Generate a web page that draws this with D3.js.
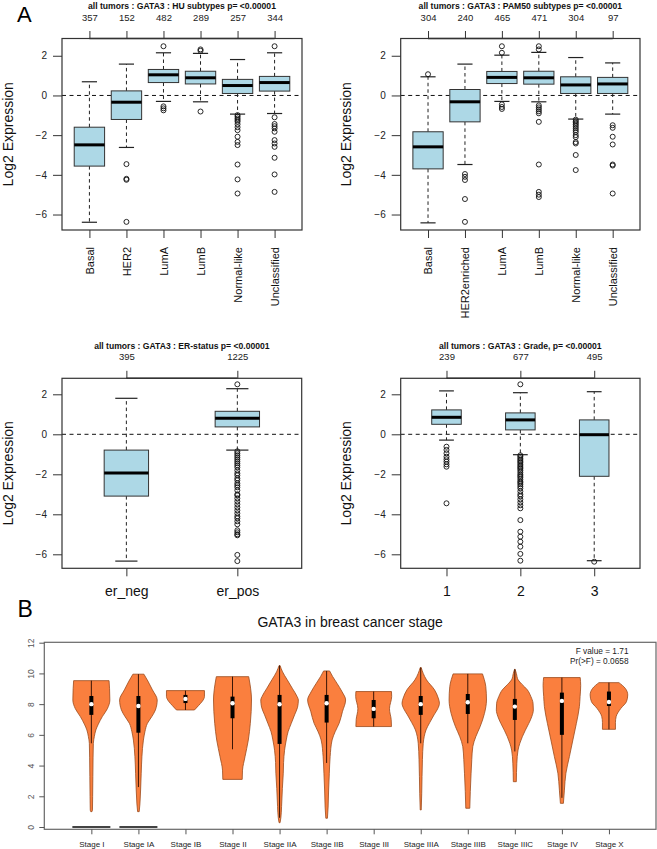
<!DOCTYPE html>
<html><head><meta charset="utf-8">
<script src="https://cdn.jsdelivr.net/npm/d3@7"></script>
<style>body{margin:0;background:#fff} svg{display:block;font-family:"Liberation Sans",Arial,sans-serif}</style>
</head><body><svg id="c" width="657" height="849"></svg>
<script>
// ---------- DATA: panel A ----------
const yTicksA = [-6, -4, -2, 0, 2];

const huTitle = "all tumors : GATA3 : HU subtypes p= <0.00001";
const huCategories = ["Basal", "HER2", "LumA", "LumB", "Normal-like", "Unclassified"];
const huCounts = [357, 152, 482, 289, 257, 344];
// [lower whisker, Q1, median, Q3, upper whisker]
const huStats = [
  [-6.39, -3.56, -2.49, -1.60, 0.69],
  [-2.62, -1.21, -0.34, 0.23, 1.58],
  [-0.30, 0.65, 1.04, 1.31, 2.15],
  [-0.32, 0.58, 0.89, 1.22, 2.12],
  [-0.94, 0.10, 0.50, 0.81, 1.81],
  [-0.91, 0.22, 0.65, 0.96, 2.15]
];
const huOutliers = [
  [],
  [-3.46, -4.20, -4.25, -6.37],
  [2.48, -0.55, -0.65, -0.75],
  [2.25, 2.32, -0.81],
  [-0.99, -1.07, -1.16, -1.24, -1.32, -1.45, -1.6, -1.75, -2.08, -2.34, -2.5, -3.48, -4.23, -4.94],
  [2.48, -1.1, -1.44, -1.55, -1.66, -1.83, -2.25, -2.42, -2.59, -3.14, -3.98, -4.86]
];

const pamTitle = "all tumors : GATA3 : PAM50 subtypes p= <0.00001";
const pamCategories = ["Basal", "HER2enriched", "LumA", "LumB", "Normal-like", "Unclassified"];
const pamCounts = [304, 240, 465, 471, 304, 97];
const pamStats = [
  [-6.42, -3.70, -2.59, -1.83, 0.94],
  [-3.48, -1.33, -0.32, 0.30, 1.58],
  [-0.30, 0.60, 0.91, 1.21, 2.03],
  [-0.32, 0.57, 0.89, 1.22, 2.17],
  [-1.19, 0.10, 0.53, 0.94, 1.91],
  [-0.94, 0.10, 0.58, 0.91, 1.64]
];
const pamOutliers = [
  [1.07],
  [-3.96, -4.10, -4.26, -5.22, -6.37],
  [2.48, 2.15, -0.45, -0.58, -0.68],
  [2.48, 2.32, -0.5, -0.6, -0.7, -0.8, -0.9, -1.33, -3.48, -4.86, -5.0, -5.12],
  [-1.22, -1.3, -1.38, -1.46, -1.55, -1.65, -1.75, -1.85, -2.0, -2.1, -2.35, -2.42, -3.0, -3.76],
  [-1.5, -1.63, -2.08, -2.47, -3.48, -3.53, -4.94]
];

const erTitle = "all tumors : GATA3 : ER-status p= <0.00001";
const erCategories = ["er_neg", "er_pos"];
const erCounts = [395, 1225];
const erStats = [
  [-6.34, -3.09, -1.94, -0.79, 1.80],
  [-0.79, 0.37, 0.80, 1.15, 2.28]
];
const erOutliers = [
  [],
  [2.5, -0.85, -0.95, -1.05, -1.15, -1.25, -1.35, -1.45, -1.55, -1.65, -1.8, -1.95, -2.05, -2.2, -2.3,
   -2.45, -2.55, -2.65, -2.8, -3.0, -3.05, -3.2, -3.35, -3.5, -3.65, -3.8, -3.95, -4.1, -4.2, -4.35,
   -4.5, -4.8, -4.9, -5.0, -5.05, -6.03, -6.34]
];

const gradeTitle = "all tumors : GATA3 : Grade, p= <0.00001";
const gradeCategories = ["1", "2", "3"];
const gradeCounts = [239, 677, 495];
const gradeStats = [
  [-0.29, 0.50, 0.85, 1.22, 2.17],
  [-1.02, 0.22, 0.72, 1.07, 2.08],
  [-6.32, -2.10, -0.02, 0.72, 2.13]
];
const gradeOutliers = [
  [-0.62, -0.78, -0.95, -1.12, -1.25, -1.37, -1.5, -1.62, -3.45],
  [2.5, -1.05, -1.12, -1.2, -1.28, -1.35, -1.42, -1.5, -1.58, -1.65, -1.72, -1.8, -1.9, -2.0, -2.08,
   -2.15, -2.25, -2.35, -2.42, -2.5, -2.6, -2.7, -2.85, -3.0, -3.1, -3.25, -3.4, -3.55, -3.7,
   -4.29, -4.87, -5.12, -5.37, -5.62, -5.98, -6.32],
  [-6.37]
];

// ---------- DATA: panel B ----------
const violinTitle = "GATA3 in breast cancer stage";
const stageNames = ["Stage I", "Stage IA", "Stage IB", "Stage II", "Stage IIA", "Stage IIB",
  "Stage III", "Stage IIIA", "Stage IIIB", "Stage IIIC", "Stage IV", "Stage X"];
const violinYTicks = [0, 2, 4, 6, 8, 10, 12];
// [lower whisker, Q1, median, Q3, upper whisker]
const stageStats = [
  [5.45, 7.30, 8.00, 8.53, 9.53],
  [2.60, 6.14, 7.88, 8.53, 9.95],
  [7.62, 8.07, 8.34, 8.60, 8.88],
  [5.06, 7.08, 8.06, 8.49, 9.79],
  [0.60, 5.41, 7.99, 8.60, 10.51],
  [4.17, 6.80, 8.06, 8.60, 10.16],
  [6.54, 7.08, 7.69, 8.27, 8.82],
  [5.45, 7.30, 8.00, 8.53, 10.38],
  [5.45, 7.36, 8.12, 8.66, 9.97],
  [4.92, 6.97, 7.84, 8.34, 10.27],
  [1.90, 6.00, 8.21, 8.75, 9.73],
  [6.36, 7.88, 8.14, 8.82, 9.40]
];
// density profiles: [value, relative density]
const stageDensity = [
  [[9.53,17.7],[9.0,18.2],[8.27,18.5],[7.7,16],[7.19,11],[6.7,7],[6.32,4.5],[5.9,3],[5.45,2],[4.5,1.7],[3.28,1.5],[2.0,1.3],[1.11,1.1],[1.0,0.6]],
  [[9.95,5.5],[9.5,9.5],[8.93,14],[8.27,18.8],[7.62,17],[7.2,13.5],[6.75,9],[6.2,6.5],[5.66,5],[4.58,3.5],[3.5,2.8],[2.41,2.2],[1.5,1.5],[1.0,0.8]],
  [[8.88,19],[8.5,19],[8.2,17],[7.9,13],[7.62,9]],
  [[9.79,16.2],[9.3,17.5],[8.27,19],[6.75,17.8],[5.66,15.8],[4.58,12.5],[3.7,10],[3.1,9.7]],
  [[10.51,0.5],[10.1,3],[9.6,7.5],[9.0,13],[8.5,17.5],[8.27,18.8],[7.8,18],[7.3,15],[6.75,11.7],[6.2,8.5],[5.67,6.7],[5.0,5],[4.2,4],[3.5,3.7],[2.5,2.8],[1.33,2],[0.6,1.3],[0.28,0.5]],
  [[10.16,3],[9.8,6],[9.36,10.3],[8.8,15.5],[8.27,19],[7.51,15.8],[6.75,12.5],[6.2,8.5],[5.67,5.5],[4.58,3.5],[3.5,2.7],[2.41,2],[1.3,1.5],[0.57,0.8]],
  [[8.82,17.8],[8.5,18],[7.7,15.8],[7.0,17.5],[6.54,17.8]],
  [[10.38,0.5],[10.0,2.5],[9.58,5.8],[8.93,13.8],[8.4,17.5],[8.06,18.7],[7.7,17],[7.3,13.3],[6.8,9],[6.32,5.3],[5.9,3.5],[5.45,2.5],[4.4,1.7],[3.28,1.3],[2.2,1],[1.11,0.5]],
  [[9.97,14.7],[9.6,16.5],[9.15,18],[8.27,18.7],[7.4,16.7],[6.53,12.3],[5.88,8],[5.23,5],[4.4,4],[3.5,3.3],[2.3,2.5],[1.22,2]],
  [[10.27,0.3],[10.0,1.5],[9.58,3.3],[9.3,7],[8.93,12.5],[8.5,16],[8.06,18.2],[7.62,18.5],[7.2,17],[6.75,14],[6.3,10.5],[5.88,7.5],[5.45,5],[5.01,3.2],[4.15,2],[2.95,1.5]],
  [[9.73,18.3],[9.2,18.8],[8.5,18.2],[7.84,17.5],[6.75,14.5],[5.67,11],[4.58,7.5],[3.5,4],[2.4,2.5],[1.54,1.5]],
  [[9.4,10],[9.03,16.3],[8.6,18.8],[8.16,17.5],[7.73,12],[7.19,7.2],[6.8,6.5],[6.36,6.5]]
];
const zeroStages = ["Stage I", "Stage IA"];
const fValueText = "F value = 1.71";
const prText = "Pr(>F) = 0.0658";

// ---------- DRAWING ----------
const svg = d3.select("#c");

const panels = [
  {title: huTitle, cats: huCategories, counts: huCounts, stats: huStats, out: huOutliers,
   left: 62, right: 302, top: 38.5, bottom: 230, yDomain: [-6.78, 2.87], boxW: 0.82, rot: true},
  {title: pamTitle, cats: pamCategories, counts: pamCounts, stats: pamStats, out: pamOutliers,
   left: 400.7, right: 640, top: 38.5, bottom: 230, yDomain: [-6.78, 2.87], boxW: 0.82, rot: true},
  {title: erTitle, cats: erCategories, counts: erCounts, stats: erStats, out: erOutliers,
   left: 62, right: 301.7, top: 378.3, bottom: 568.3, yDomain: [-6.7, 2.8], boxW: 0.4, rot: false},
  {title: gradeTitle, cats: gradeCategories, counts: gradeCounts, stats: gradeStats, out: gradeOutliers,
   left: 400.7, right: 640, top: 378.3, bottom: 568.3, yDomain: [-6.7, 2.8], boxW: 0.4, rot: false}
];

function boxPanel(p) {
  const n = p.cats.length;
  const ext = 0.04 * n;
  const x = d3.scaleLinear().domain([0.5 - ext, n + 0.5 + ext]).range([p.left, p.right]);
  const y = d3.scaleLinear().domain(p.yDomain).range([p.bottom, p.top]);
  const idx = d3.range(1, n + 1);
  const g = svg.append("g");

  // reference line at 0
  g.append("line").attr("x1", p.left).attr("x2", p.right)
    .attr("y1", y(0)).attr("y2", y(0))
    .attr("stroke", "#111").attr("stroke-width", 1).attr("stroke-dasharray", "4,3.5");

  const hw = (x(p.boxW) - x(0)) / 2;
  p.stats.forEach((s, i) => {
    const cx = x(i + 1);
    const [lo, q1, med, q3, hi] = s;
    const bg = g.append("g");
    bg.append("line").attr("x1", cx).attr("x2", cx).attr("y1", y(q3)).attr("y2", y(hi))
      .attr("stroke", "#222").attr("stroke-dasharray", "3.5,3");
    bg.append("line").attr("x1", cx).attr("x2", cx).attr("y1", y(q1)).attr("y2", y(lo))
      .attr("stroke", "#222").attr("stroke-dasharray", "3.5,3");
    [lo, hi].forEach(v => bg.append("line").attr("x1", cx - hw / 2).attr("x2", cx + hw / 2)
      .attr("y1", y(v)).attr("y2", y(v)).attr("stroke", "#222").attr("stroke-width", 1.2));
    bg.append("rect").attr("x", cx - hw).attr("width", 2 * hw)
      .attr("y", y(q3)).attr("height", y(q1) - y(q3))
      .attr("fill", "#add8e6").attr("stroke", "#333").attr("stroke-width", 1);
    bg.append("line").attr("x1", cx - hw).attr("x2", cx + hw).attr("y1", y(med)).attr("y2", y(med))
      .attr("stroke", "#000").attr("stroke-width", 3);
    p.out[i].forEach(v => bg.append("circle").attr("cx", cx).attr("cy", y(v)).attr("r", 2.5)
      .attr("fill", "none").attr("stroke", "#111").attr("stroke-width", 0.9));
  });

  // frame
  g.append("rect").attr("x", p.left).attr("y", p.top).attr("width", p.right - p.left)
    .attr("height", p.bottom - p.top).attr("fill", "none").attr("stroke", "#333").attr("stroke-width", 1.2);
  // top axis line from first to last tick
  g.append("line").attr("x1", x(1)).attr("x2", x(n)).attr("y1", p.top).attr("y2", p.top)
    .attr("stroke", "#333").attr("stroke-width", 1.4);

  // left axis
  const ya = g.append("g").attr("transform", `translate(${p.left},0)`)
    .call(d3.axisLeft(y).tickValues(yTicksA).tickSize(9).tickPadding(6).tickFormat(d3.format("d")));
  ya.select(".domain").remove();
  ya.selectAll("line").attr("stroke", "#333");
  ya.selectAll("text").attr("font-size", 10).attr("fill", "#222").attr("font-family", "Liberation Sans, Arial");

  // top axis with counts
  const ta = g.append("g").attr("transform", `translate(0,${p.top})`)
    .call(d3.axisTop(x).tickValues(idx).tickSize(7.5).tickPadding(10.5).tickFormat(i => p.counts[i - 1]));
  ta.select(".domain").remove();
  ta.selectAll("line").attr("stroke", "#333");
  ta.selectAll("text").attr("font-size", 9.5).attr("fill", "#222").attr("font-family", "Liberation Sans, Arial");

  // bottom axis with categories
  const ba = g.append("g").attr("transform", `translate(0,${p.bottom})`)
    .call(d3.axisBottom(x).tickValues(idx).tickSize(8).tickFormat(i => p.cats[i - 1]));
  ba.select(".domain").remove();
  ba.selectAll("line").attr("stroke", "#333");
  const bt = ba.selectAll("text").attr("fill", "#111").attr("font-family", "Liberation Sans, Arial");
  if (p.rot) {
    bt.attr("font-size", 11).attr("transform", "rotate(-90)").attr("x", -17).attr("y", 0)
      .attr("dy", "0.35em").style("text-anchor", "end");
  } else {
    bt.attr("font-size", 14).attr("y", 28).attr("dy", "0");
  }

  // title
  g.append("text").attr("x", (p.left + p.right) / 2).attr("y", p.top - 29.5)
    .attr("text-anchor", "middle").attr("font-size", 8.6).attr("font-weight", "bold")
    .attr("fill", "#111").text(p.title);
  // y label
  g.append("text").attr("transform", `translate(${p.left - 49.5},${(p.top + p.bottom) / 2}) rotate(-90)`)
    .attr("text-anchor", "middle").attr("font-size", 14).attr("fill", "#111").text("Log2 Expression");
}
panels.forEach(boxPanel);

// panel letters
svg.append("text").attr("x", 17).attr("y", 21.5).attr("font-size", 22).attr("fill", "#000").text("A");
svg.append("text").attr("x", 17.5).attr("y", 617).attr("font-size", 23).attr("fill", "#000").text("B");

// ---------- violin panel ----------
const vb = {left: 44.3, right: 656, top: 642.3, bottom: 829.3};
const vy = d3.scaleLinear().domain([0, 12]).range([827, 642.7]);
const vx = d3.scalePoint().domain(stageNames).range([vb.left, vb.right]).padding(1);
const vw = d3.scaleLinear().domain([0, 19]).range([0, 19]);
const maxDensity = 19;
const vArea = d3.area().y(d => vy(d[0])).x0(d => -vw(d[1])).x1(d => vw(d[1])).curve(d3.curveMonotoneY);

const vg = svg.append("g");
vg.append("rect").attr("x", vb.left).attr("y", vb.top).attr("width", vb.right - vb.left)
  .attr("height", vb.bottom - vb.top).attr("fill", "#fff").attr("stroke", "#666").attr("stroke-width", 1.2);

stageNames.forEach((s, i) => {
  const g = vg.append("g").attr("transform", `translate(${vx(s)},0)`);
  const [lo, q1, med, q3, hi] = stageStats[i];
  g.append("path").attr("d", vArea(stageDensity[i]))
    .attr("fill", "#fa7f3e").attr("stroke", "#9b4a1c").attr("stroke-width", 0.8);
  g.append("line").attr("x1", 0).attr("x2", 0).attr("y1", vy(lo)).attr("y2", vy(hi))
    .attr("stroke", "#3a1505").attr("stroke-width", 1);
  g.append("rect").attr("x", -2).attr("width", 4).attr("y", vy(q3)).attr("height", vy(q1) - vy(q3))
    .attr("fill", "#000");
  g.append("circle").attr("cx", 0).attr("cy", vy(med)).attr("r", 2.2).attr("fill", "#fff");
});
zeroStages.forEach(s => {
  vg.append("line").attr("x1", vx(s) - vw(maxDensity)).attr("x2", vx(s) + vw(maxDensity))
    .attr("y1", vy(0)).attr("y2", vy(0)).attr("stroke", "#444").attr("stroke-width", 2.2);
});

const vya = vg.append("g").attr("transform", `translate(${vb.left},0)`)
  .call(d3.axisLeft(vy).tickValues(violinYTicks).tickSize(5));
vya.select(".domain").remove();
vya.selectAll("line").attr("stroke", "#555");
vya.selectAll("text").attr("font-size", 8.5).attr("fill", "#555").attr("font-family", "Liberation Sans, Arial")
  .attr("transform", "rotate(-90)").attr("x", 0).attr("y", -10).attr("dy", "0").style("text-anchor", "middle");

const vxa = vg.append("g").attr("transform", `translate(0,${vb.bottom})`)
  .call(d3.axisBottom(vx).tickSize(5).tickPadding(7));
vxa.select(".domain").remove();
vxa.selectAll("line").attr("stroke", "#555");
vxa.selectAll("text").attr("font-size", 8).attr("fill", "#222").attr("font-family", "Liberation Sans, Arial");

vg.append("text").attr("x", (vb.left + vb.right) / 2).attr("y", 627).attr("text-anchor", "middle")
  .attr("font-size", 14).attr("fill", "#111").text(violinTitle);
vg.append("text").attr("x", 628.5).attr("y", 654).attr("text-anchor", "end").attr("font-size", 8.3)
  .attr("fill", "#222").text(fValueText);
vg.append("text").attr("x", 628.5).attr("y", 664).attr("text-anchor", "end").attr("font-size", 8.3)
  .attr("fill", "#222").text(prText);
</script>
</body></html>
